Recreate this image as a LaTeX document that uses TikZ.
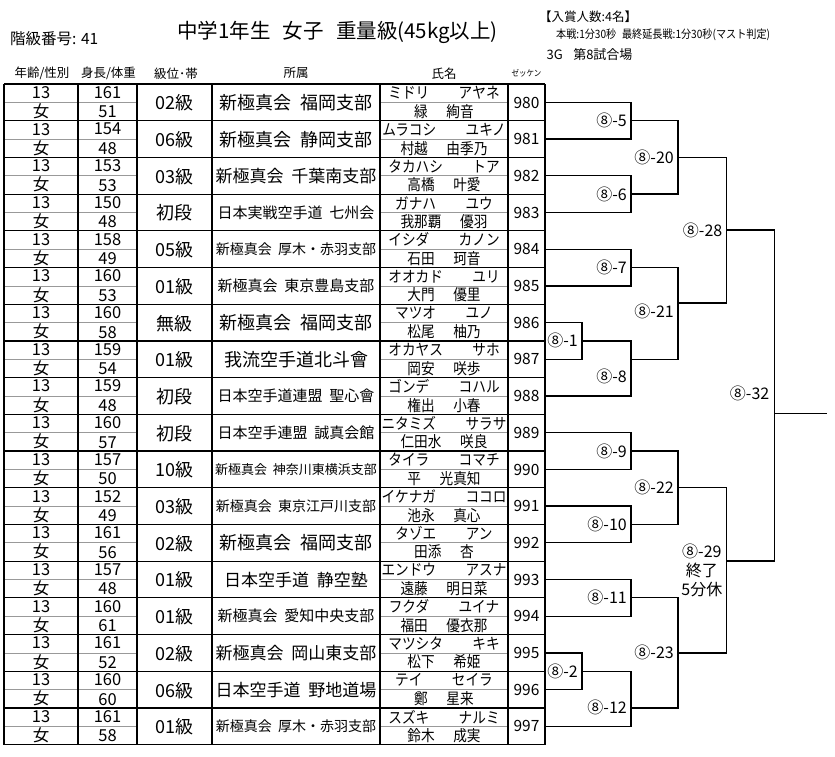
\documentclass[tikz,border=0pt]{standalone}
\usepackage{fontspec}
\setmainfont{Noto Sans CJK JP}
\newfontfamily\jpn[FakeStretch=0.88]{Noto Sans CJK JP}
\usetikzlibrary{positioning}
\newcommand{\hsp}{\hspace{0.45em}}

\begin{document}
\begin{tikzpicture}[x=1pt, y=-1pt, every node/.style={inner sep=0pt},
    gridln/.style={line width=1.2pt},
    midln/.style={line width=0.6pt, black!40},
    brk/.style={line width=1.3pt},
    num/.style={font=\fontsize{16.5}{18}\selectfont},
    grade/.style={font=\fontsize{18}{20}\selectfont},
    kana/.style={font=\jpn\fontsize{15.5}{17}\selectfont},
    zek/.style={font=\fontsize{15.5}{17}\selectfont},
    lbl/.style={font=\fontsize{16}{19}\selectfont},
    hdr/.style={font=\fontsize{12.5}{14}\selectfont}]

    \fill[white] (0,0) rectangle (835,756);
    \useasboundingbox (0,0) rectangle (835,756);

    % heading
    \node[anchor=west, font=\fontsize{15.5}{17}\selectfont] (clsno) at (10,38.3) {階級番号: 41};
    \node[font=\fontsize{20.5}{22}\selectfont] (title) at (337.5,32) {中学1年生\hspace{0.6em}女子\hspace{0.6em}重量級(45kg以上)};
    \node[anchor=west, font=\fontsize{12.5}{14}\selectfont] (prize) at (539,17) {【入賞人数:4名】};
    \node[anchor=west, font=\jpn\fontsize{11.5}{13}\selectfont] (time) at (556,34.5) {本戦:1分30秒\hspace{0.5em}最終延長戦:1分30秒(マスト判定)};
    \node[anchor=west, font=\fontsize{13}{15}\selectfont] (mat) at (546.5,55) {3G\hspace{0.8em}第8試合場};

    \node[hdr] (hAge) at (42,73.3) {年齢/性別};
    \node[hdr] (hBody) at (108.5,73.3) {身長/体重};
    \node[hdr] (hGrade) at (176,73.3) {級位･帯};
    \node[hdr] (hClub) at (296,73.3) {所属};
    \node[hdr] (hName) at (444,73.3) {氏名};
    \node[hdr, font=\jpn\fontsize{8.5}{10}\selectfont] (hZek) at (526.5,73.3) {ゼッケン};

    % table
    \foreach \row in {0,...,17}{
        \draw[midln] (4,{102.35+36.7*\row}) -- (137,{102.35+36.7*\row});
        \draw[midln] (380,{102.35+36.7*\row}) -- (508,{102.35+36.7*\row});
    }
    \foreach \row in {0,...,18}
        \draw[gridln] (4,{84+36.7*\row}) -- (545,{84+36.7*\row});
    \foreach \x in {4,78,137,212,380,508,545}
        \draw[gridln] (\x,84) -- (\x,744.6);

    \foreach \row/\hgt/\wgt/\grd/\fsz/\club/\kaA/\kaB/\knA/\knB/\zek in {
        0/161/51/02級/18/新極真会\hsp 福岡支部/ミドリ/アヤネ/緑/絢音/980,
        1/154/48/06級/18/新極真会\hsp 静岡支部/ムラコシ/ユキノ/村越/由季乃/981,
        2/153/53/03級/17/新極真会\hsp 千葉南支部/タカハシ/トア/高橋/叶愛/982,
        3/150/48/初段/15/日本実戦空手道\hsp 七州会/ガナハ/ユウ/我那覇/優羽/983,
        4/158/49/05級/14/新極真会\hsp 厚木・赤羽支部/イシダ/カノン/石田/珂音/984,
        5/160/53/01級/15/新極真会\hsp 東京豊島支部/オオカド/ユリ/大門/優里/985,
        6/160/58/無級/18/新極真会\hsp 福岡支部/マツオ/ユノ/松尾/柚乃/986,
        7/159/54/01級/18/我流空手道北斗會/オカヤス/サホ/岡安/咲歩/987,
        8/159/48/初段/15/日本空手道連盟\hsp 聖心會/ゴンデ/コハル/権出/小春/988,
        9/160/57/初段/15/日本空手連盟\hsp 誠真会館/ニタミズ/サラサ/仁田水/咲良/989,
        10/157/50/10級/13/新極真会\hsp 神奈川東横浜支部/タイラ/コマチ/平/光真知/990,
        11/152/49/03級/14/新極真会\hsp 東京江戸川支部/イケナガ/ココロ/池永/真心/991,
        12/161/56/02級/18/新極真会\hsp 福岡支部/タゾエ/アン/田添/杏/992,
        13/157/48/01級/17/日本空手道\hsp 静空塾/エンドウ/アスナ/遠藤/明日菜/993,
        14/160/61/01級/15/新極真会\hsp 愛知中央支部/フクダ/ユイナ/福田/優衣那/994,
        15/161/52/02級/17/新極真会\hsp 岡山東支部/マツシタ/キキ/松下/希姫/995,
        16/160/60/06級/17/日本空手道\hsp 野地道場/テイ/セイラ/鄭/星来/996,
        17/161/58/01級/14/新極真会\hsp 厚木・赤羽支部/スズキ/ナルミ/鈴木/成実/997}{
        \pgfmathsetmacro\T{84+36.7*\row}
        \node[num] (age\row) at (41,{\T+8.5}) {13};
        \node[num] (sex\row) at (41,{\T+27.3}) {女};
        \node[num] (hgt\row) at (107.5,{\T+8.5}) {\hgt};
        \node[num] (wgt\row) at (107.5,{\T+28}) {\wgt};
        \node[grade] (grd\row) at (174.5,{\T+19}) {\grd};
        \node[font=\fontsize{\fsz}{\fsz}\selectfont] (club\row) at (296,{\T+18.5}) {\club};
        \node[kana] (kana\row) at (444,{\T+9}) {\kaA\hspace{1.9em}\kaB};
        \node[kana] (kanji\row) at (444,{\T+27.5}) {\knA\hspace{1.2em}\knB};
        \node[zek] (zk\row) at (526.5,{\T+18.5}) {\zek};
        \coordinate (p\row) at (545,{\T+18.35});
    }

    % bracket
    \coordinate (m1) at (582,340.9);
    \coordinate (m2) at (582,671.2);
    \coordinate (m5) at (631,120.7);
    \coordinate (m6) at (631,194.1);
    \coordinate (m7) at (631,267.5);
    \coordinate (m8) at (631,359.5);
    \coordinate (m9) at (631,451);
    \coordinate (m10) at (631,524.4);
    \coordinate (m11) at (631,597.8);
    \coordinate (m12) at (631,707.9);
    \coordinate (m20) at (678,157.4);
    \coordinate (m21) at (678,303);
    \coordinate (m22) at (678,487.7);
    \coordinate (m23) at (678,652.85);
    \coordinate (m28) at (726.5,230);
    \coordinate (m29) at (726.5,561);
    \coordinate (m32) at (774.5,413.5);
    \coordinate (fin) at (827,413.5);

    \draw[brk] (p0) -| (m5) |- (p1);
    \draw[brk] (p2) -| (m6) |- (p3);
    \draw[brk] (p4) -| (m7) |- (p5);
    \draw[brk] (p6) -| (m1) |- (p7);
    \draw[brk] (m1) -| (m8) |- (p8);
    \draw[brk] (p9) -| (m9) |- (p10);
    \draw[brk] (p11) -| (m10) |- (p12);
    \draw[brk] (p13) -| (m11) |- (p14);
    \draw[brk] (p15) -| (m2) |- (p16);
    \draw[brk] (m2) -| (m12) |- (p17);
    \draw[brk] (m5) -| (m20) |- (m6);
    \draw[brk] (m7) -| (m21) |- (m8);
    \draw[brk] (m9) -| (m22) |- (m10);
    \draw[brk] (m11) -| (m23) |- (m12);
    \draw[brk] (m20) -| (m28) |- (m21);
    \draw[brk] (m22) -| (m29) |- (m23);
    \draw[brk] (m28) -| (m32) |- (m29);
    \draw[brk] (m32) -- (fin);

    \node[lbl, left=4pt of m1] (l1) {⑧-1};
    \node[lbl, left=4pt of m2] (l2) {⑧-2};
    \node[lbl, left=4pt of m5] (l5) {⑧-5};
    \node[lbl, left=4pt of m6] (l6) {⑧-6};
    \node[lbl, left=4pt of m7] (l7) {⑧-7};
    \node[lbl, left=4pt of m8, yshift=-17pt] (l8) {⑧-8};
    \node[lbl, left=4pt of m9] (l9) {⑧-9};
    \node[lbl, left=4pt of m10] (l10) {⑧-10};
    \node[lbl, left=4pt of m11] (l11) {⑧-11};
    \node[lbl, left=4pt of m12] (l12) {⑧-12};
    \node[lbl, left=4pt of m20] (l20) {⑧-20};
    \node[lbl, left=4pt of m21, yshift=-8.7pt] (l21) {⑧-21};
    \node[lbl, left=4pt of m22] (l22) {⑧-22};
    \node[lbl, left=4pt of m23] (l23) {⑧-23};
    \node[lbl, left=4pt of m28] (l28) {⑧-28};
    \node[lbl, align=center, left=4pt of m29, yshift=-9pt] (l29) {⑧-29\\終了\\5分休};
    \node[lbl, left=5pt of m32, yshift=20pt] (l32) {⑧-32};

\end{tikzpicture}
\end{document}
